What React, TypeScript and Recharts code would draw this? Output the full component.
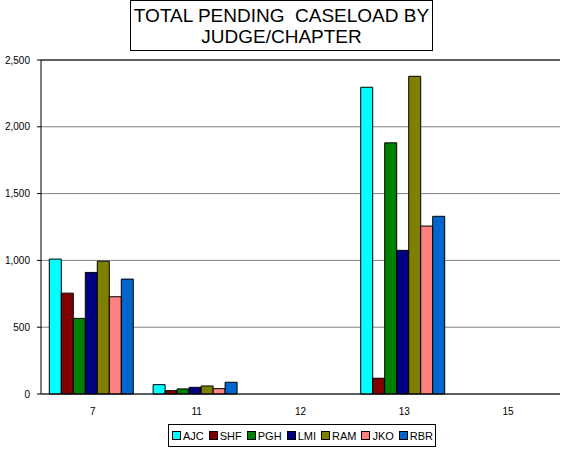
import { BarChart, Bar, XAxis, YAxis, CartesianGrid, ReferenceLine } from "recharts";

const chapters = ["7", "11", "12", "13", "15"];
const judges = ["AJC", "SHF", "PGH", "LMI", "RAM", "JKO", "RBR"];
const colors = ["#00FFFF", "#800000", "#008000", "#000080", "#808000", "#FF8080", "#0066CC"];

const ajc = [1010, 70, 0, 2296, 0];
const shf = [755, 25, 0, 118, 0];
const pgh = [566, 38, 0, 1880, 0];
const lmi = [910, 50, 0, 1075, 0];
const ram = [994, 60, 0, 2378, 0];
const jko = [728, 40, 0, 1257, 0];
const rbr = [860, 88, 0, 1330, 0];

const yTicks = [0, 500, 1000, 1500, 2000, 2500];

const series = [ajc, shf, pgh, lmi, ram, jko, rbr];
const data = chapters.map((c, i) => {
  const row: Record<string, string | number> = { chapter: c };
  judges.forEach((j, k) => {
    row[j] = series[k][i];
  });
  return row;
});

const font = "'Liberation Sans', Arial, sans-serif";

export default function App() {
  return (
    <div style={{ position: "absolute", left: 0, top: 0, width: 561, height: 452, fontFamily: font, background: "#fff" }}>
      <style>{`body{margin:0}`}</style>
      <BarChart
        width={561}
        height={452}
        data={data}
        margin={{ top: 60, right: 1, bottom: 0, left: 0 }}
        barCategoryGap="8%"
        barGap={0}
      >
        <CartesianGrid vertical={false} stroke="#808080" />
        <XAxis
          dataKey="chapter"
          height={58}
          tick={{ fontSize: 10, fill: "#000", fontFamily: font }}
          tickLine={false}
          axisLine={{ stroke: "#000" }}
          tickMargin={8}
        />
        <YAxis
          width={41}
          domain={[0, 2500]}
          ticks={yTicks}
          interval={0}
          tickFormatter={(v: number) => v.toLocaleString("en-US")}
          tick={{ fontSize: 10, fill: "#000", fontFamily: font }}
          tickLine={{ stroke: "#000" }}
          tickSize={4}
          tickMargin={7}
          axisLine={{ stroke: "#000" }}
        />
        <YAxis
          yAxisId="r"
          orientation="right"
          width={0}
          domain={[0, 2500]}
          tick={false}
          tickLine={false}
          axisLine={{ stroke: "#808080" }}
        />
        <ReferenceLine y={2500} stroke="#000" />
        {judges.map((j, k) => (
          <Bar
            key={j}
            dataKey={j}
            fill={colors[k]}
            stroke="#000"
            strokeWidth={1}
            isAnimationActive={false}
          />
        ))}
      </BarChart>
      <div
        style={{
          position: "absolute",
          left: 130,
          top: 0,
          width: 303,
          height: 51,
          border: "1px solid #000",
          textAlign: "center",
          fontSize: 19,
          lineHeight: "21px",
          paddingTop: 4,
          boxSizing: "border-box",
          whiteSpace: "pre",
        }}
      >
        {"TOTAL PENDING  CASELOAD BY\nJUDGE/CHAPTER"}
      </div>
      <div
        style={{
          position: "absolute",
          left: 168,
          top: 424,
          width: 268,
          height: 23,
          border: "1px solid #000",
          boxSizing: "border-box",
          display: "flex",
          alignItems: "center",
          paddingLeft: 3,
          fontSize: 11,
        }}
      >
        {judges.map((j, k) => (
          <span key={j} style={{ display: "flex", alignItems: "center", marginRight: 5 }}>
            <span
              style={{
                display: "inline-block",
                width: 7,
                height: 7,
                background: colors[k],
                border: "1px solid #000",
                marginRight: 2,
              }}
            />
            {j}
          </span>
        ))}
      </div>
    </div>
  );
}
